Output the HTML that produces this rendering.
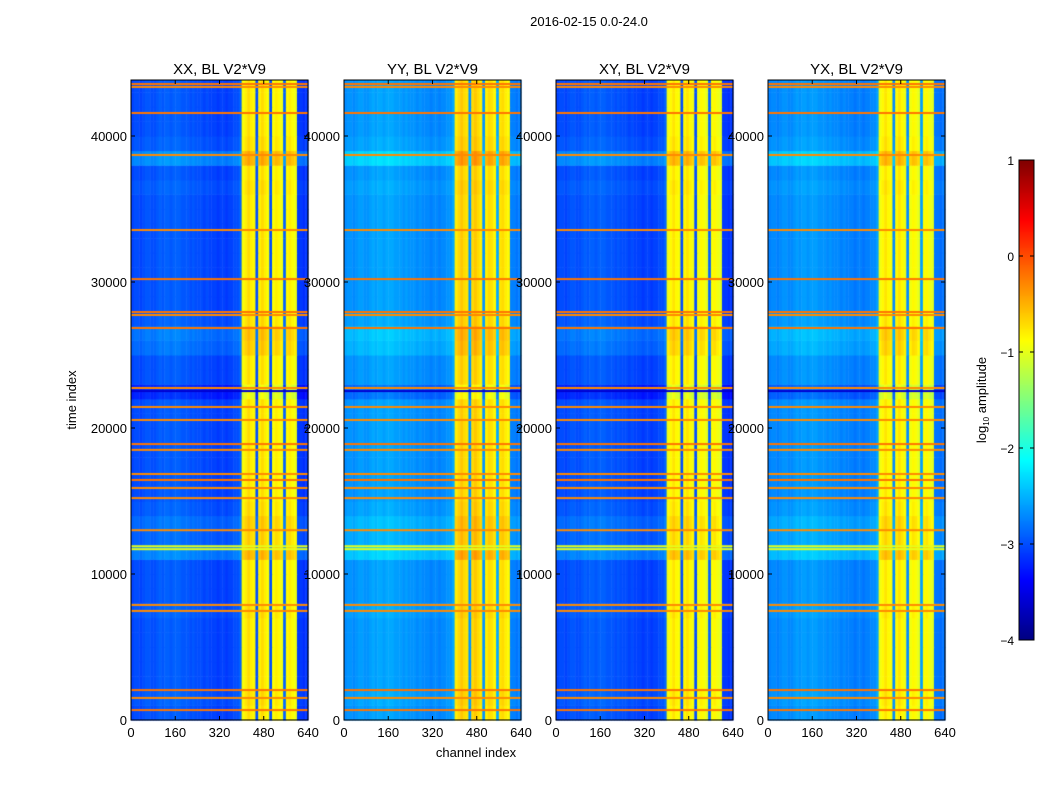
<!DOCTYPE html>
<html><head><meta charset="utf-8"><style>
body{margin:0;background:#fff;}
#wrap{position:relative;width:1050px;height:800px;font-family:"Liberation Sans",sans-serif;}
canvas,svg{position:absolute;left:0;top:0;}
</style></head><body>
<div id="wrap">
<canvas id="cv" width="1050" height="800"></canvas>
<svg id="sv" width="1050" height="800"></svg>
</div>
<script>
// ---- data ----
const panelTitles = ["XX, BL V2*V9","YY, BL V2*V9","XY, BL V2*V9","YX, BL V2*V9"];
const xTicks = [0,160,320,480,640];
const yTicks = [0,10000,20000,30000,40000];
const cbTicks = [-4,-3,-2,-1,0,1];
// log10 amplitude per 10-channel bin (64 bins)
const chanProfile = [-3.05,-3.0,-3.0,-3.05,-3.0,-2.95,-2.95,-3.0,-3.0,-2.95,
 -2.9,-2.95,-2.9,-2.9,-2.95,-2.9,-2.9,-2.9,-2.95,-2.95,
 -2.95,-3.0,-2.95,-3.0,-3.0,-3.0,-3.05,-3.0,-3.05,-3.05,
 -3.05,-3.1,-3.05,-3.05,-3.1,-3.05,-3.05,-3.0,-3.0,-2.9,
 -0.95,-0.85,-0.75,-0.85,-0.9,-3.0,-0.85,-0.75,-0.85,-0.95,
 -3.0,-0.95,-0.85,-0.9,-1.0,-2.9,-0.9,-0.85,-0.95,-1.0,
 -3.1,-3.1,-3.15,-3.1];
// per-panel offsets: quiet region, RFI band region
const panelQuiet = [0.0,0.35,0.0,0.3];
const panelBand = [0.05,0.15,0.0,0.0];
// time offset per 1000-sample block (44 blocks)
const timeProfile = [0,0.05,0,0,0,0,0,0.05,0,0,
 0,0.25,0.1,0.15,0.05,0,0,0,0,0,
 0,0,-0.2,0,0,0.15,0.2,0.05,0,0,
 0,0,0,0,0,0,0.05,0,0.3,0.05,
 0,0,0,0];
// horizontal RFI lines: time index, log amplitude
const lineTimes = [43560,43360,41575,38700,33560,30200,27945,27740,26850,22740,22530,21440,20550,18900,18500,16850,16440,15890,15200,13000,11700,11900,7880,7470,2050,1510,680];
const lineVals = [-0.2,-0.3,-0.2,-0.3,-0.3,-0.2,-0.2,-0.3,-0.2,-0.3,-3.6,-0.3,-0.3,-0.2,-0.3,-0.3,-0.2,-0.3,-0.3,-0.3,-1.0,-1.0,-0.3,-0.3,-0.2,-0.3,-0.2];

// ---- layout ----
const px0 = [131,344,556,768], pw = 177, py0 = 80, py1 = 720, tMax = 43836;
const xs = (p,c) => px0[p] + c/640*pw;
const ys = t => py1 - t*0.0146;
function jet(v){
  let x = Math.max(0,Math.min(1,(v+4)/5));
  const f=(a)=>Math.max(0,Math.min(1,1.5-Math.abs(4*x-a)));
  return `rgb(${Math.round(255*f(3))},${Math.round(255*f(2))},${Math.round(255*f(1))})`;
}
const ctx = document.getElementById('cv').getContext('2d');
for(let p=0;p<4;p++){
  for(let b=0;b<44;b++){
    for(let c=0;c<64;c++){
      const band = chanProfile[c] > -2;
      let v = chanProfile[c] + timeProfile[b] + (band?panelBand[p]:panelQuiet[p]);
      ctx.fillStyle = jet(v);
      const x1 = xs(p,c*10), x2 = xs(p,c*10+10);
      const y1 = ys(Math.min((b+1)*1000,tMax)), y2 = ys(b*1000);
      ctx.fillRect(x1,y1,x2-x1+0.5,y2-y1+0.5);
    }
  }
  for(let i=0;i<lineTimes.length;i++){
    ctx.fillStyle = jet(lineVals[i]);
    const y = ys(lineTimes[i]);
    ctx.fillRect(px0[p], y-1, pw, 2);
  }
}
// colorbar
for(let i=0;i<480;i++){
  ctx.fillStyle = jet(1 - i/96);
  ctx.fillRect(1019,160+i,15,1);
}

// ---- axes (SVG) ----
const NS="http://www.w3.org/2000/svg", sv=document.getElementById('sv');
function mk(tag,attrs,txt){const e=document.createElementNS(NS,tag);for(const k in attrs)e.setAttribute(k,attrs[k]);if(txt!==undefined)e.textContent=txt;sv.appendChild(e);return e;}
let e = mk('text',{x:589,y:26,'font-size':13,'text-anchor':'middle'},"2016-02-15 0.0-24.0");
 
for(let p=0;p<4;p++){
  e = mk('rect',{x:px0[p],y:py0,width:pw,height:py1-py0,fill:'none',stroke:'#000','stroke-width':1});
   
  e = mk('text',{x:px0[p]+pw/2,y:74,'font-size':15,'text-anchor':'middle'},panelTitles[p]);
   
  xTicks.forEach(t=>{
    const x=xs(p,t);
    mk('line',{x1:x,x2:x,y1:py1,y2:py1-4,stroke:'#000'});
    mk('line',{x1:x,x2:x,y1:py0,y2:py0+4,stroke:'#000'});
    e = mk('text',{x:x,y:737,'font-size':13,'text-anchor':'middle'},t);
     
  });
  yTicks.forEach(t=>{
    const y=ys(t);
    mk('line',{x1:px0[p],x2:px0[p]+4,y1:y,y2:y,stroke:'#000'});
    mk('line',{x1:px0[p]+pw,x2:px0[p]+pw-4,y1:y,y2:y,stroke:'#000'});
    e = mk('text',{x:px0[p]-4,y:y+5,'font-size':13,'text-anchor':'end'},t);
     
  });
}
e = mk('text',{x:76,y:400,'font-size':13,'text-anchor':'middle',transform:'rotate(-90 76 400)'},"time index");
 
e = mk('text',{x:476,y:757,'font-size':13,'text-anchor':'middle'},"channel index");
 
e = mk('rect',{x:1019,y:160,width:15,height:480,fill:'none',stroke:'#000'});
 
cbTicks.forEach(t=>{
  const y = 640-(t+4)*96;
  mk('line',{x1:1019,x2:1023,y1:y,y2:y,stroke:'#000'});
  mk('line',{x1:1034,x2:1030,y1:y,y2:y,stroke:'#000'});
  e = mk('text',{x:1014,y:y+5,'font-size':12,'text-anchor':'end'},(t<0?'\u2212':'')+Math.abs(t));
   
});
e = mk('text',{x:986,y:400,'font-size':13,'text-anchor':'middle',transform:'rotate(-90 986 400)'});
 
e.innerHTML = 'log<tspan font-size="8" dy="3">10</tspan><tspan dy="-3"> amplitude</tspan>';
</script>
</body></html>
